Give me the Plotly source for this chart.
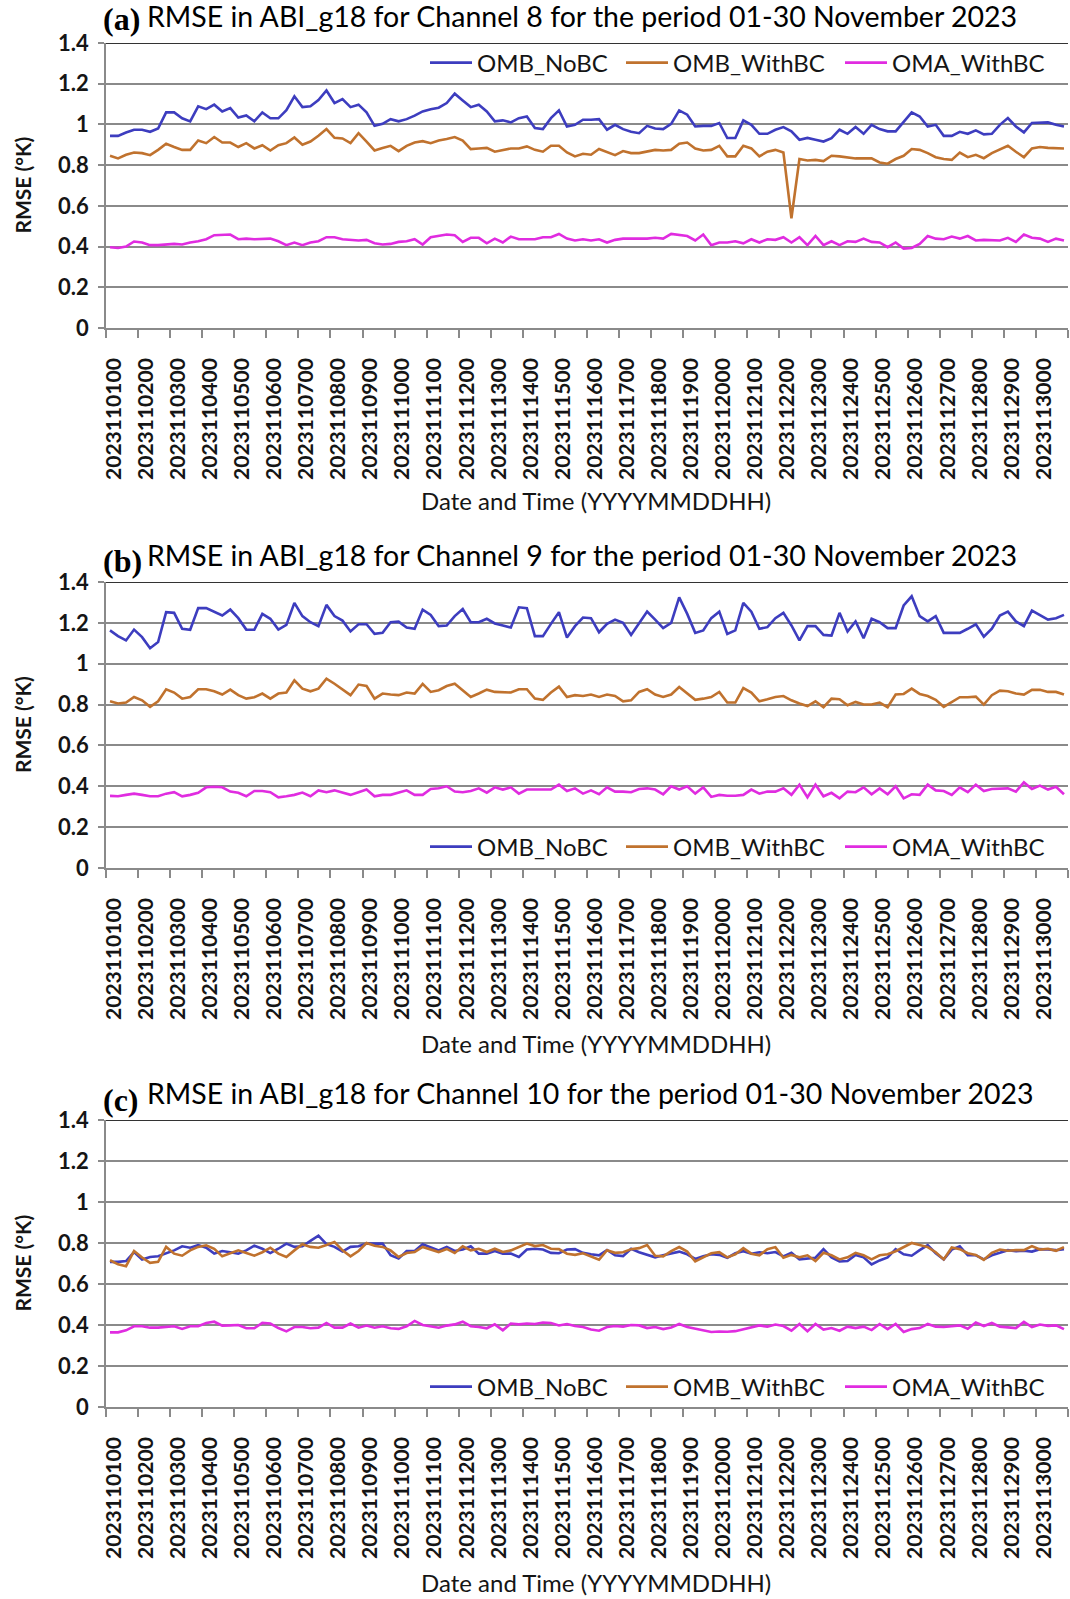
import plotly.graph_objects as go

W, H = 1070, 1599

# ---------------- data ----------------
days = [f"{d:02d}" for d in range(1, 31)]
hours = ["00", "06", "12", "18"]
times = [f"202311{d}{h}" for d in days for h in hours]          # 120 analysis times
tick_idx = list(range(0, 120, 4))
tick_labels = [times[i] for i in tick_idx]
y_ticks = [0, 0.2, 0.4, 0.6, 0.8, 1.0, 1.2, 1.4]
y_tick_text = ["0", "0.2", "0.4", "0.6", "0.8", "1", "1.2", "1.4"]

a_nobc = [0.944,0.944,0.96,0.974,0.974,0.964,0.98,1.059,1.059,1.03,
          1.015,1.089,1.075,1.097,1.064,1.08,1.034,1.044,1.015,1.059,
          1.03,1.03,1.07,1.138,1.085,1.089,1.12,1.167,1.105,1.125,
          1.085,1.097,1.059,0.993,1.003,1.026,1.015,1.026,1.043,1.064,
          1.075,1.082,1.105,1.151,1.118,1.085,1.097,1.064,1.015,1.02,
          1.01,1.031,1.039,0.982,0.977,1.031,1.069,0.99,0.998,1.023,
          1.023,1.026,0.974,0.998,0.977,0.964,0.957,0.993,0.98,0.977,
          1.003,1.069,1.048,0.99,0.993,0.993,1.007,0.933,0.933,1.02,
          0.998,0.954,0.954,0.974,0.987,0.966,0.925,0.934,0.925,0.916,
          0.933,0.974,0.954,0.987,0.954,0.998,0.977,0.966,0.966,1.015,
          1.059,1.039,0.99,0.998,0.944,0.944,0.964,0.954,0.971,0.951,
          0.954,0.998,1.031,0.99,0.961,1.007,1.01,1.01,0.998,0.99]
a_withbc = [0.846,0.833,0.851,0.862,0.859,0.849,0.875,0.905,0.889,0.875,
            0.875,0.921,0.908,0.938,0.911,0.911,0.889,0.908,0.882,0.898,
            0.872,0.898,0.908,0.936,0.9,0.916,0.944,0.977,0.934,0.931,
            0.908,0.957,0.916,0.872,0.884,0.895,0.869,0.895,0.911,0.918,
            0.908,0.921,0.928,0.938,0.921,0.879,0.882,0.885,0.866,0.875,
            0.882,0.882,0.892,0.875,0.866,0.895,0.895,0.862,0.843,0.856,
            0.851,0.879,0.862,0.849,0.869,0.859,0.859,0.867,0.875,0.872,
            0.875,0.905,0.911,0.882,0.872,0.875,0.895,0.843,0.843,0.895,
            0.882,0.843,0.866,0.875,0.862,0.539,0.83,0.823,0.826,0.82,
            0.846,0.843,0.839,0.833,0.833,0.833,0.813,0.807,0.83,0.846,
            0.879,0.875,0.859,0.839,0.83,0.826,0.862,0.839,0.851,0.834,
            0.859,0.879,0.895,0.866,0.839,0.882,0.889,0.885,0.882,0.882]
a_oma = [0.397,0.393,0.4,0.425,0.42,0.407,0.407,0.41,0.413,0.41,
         0.42,0.426,0.436,0.456,0.456,0.459,0.436,0.439,0.436,0.436,
         0.439,0.426,0.407,0.42,0.407,0.42,0.426,0.446,0.446,0.436,
         0.433,0.43,0.433,0.416,0.41,0.413,0.423,0.426,0.436,0.41,
         0.446,0.452,0.459,0.456,0.423,0.443,0.443,0.416,0.439,0.42,
         0.449,0.436,0.436,0.436,0.446,0.446,0.462,0.439,0.43,0.436,
         0.43,0.436,0.42,0.433,0.439,0.439,0.436,0.439,0.443,0.439,
         0.462,0.456,0.452,0.43,0.459,0.407,0.42,0.42,0.426,0.416,
         0.436,0.42,0.436,0.433,0.446,0.42,0.446,0.407,0.452,0.407,
         0.426,0.407,0.426,0.423,0.439,0.423,0.42,0.397,0.42,0.39,
         0.393,0.413,0.452,0.439,0.436,0.449,0.439,0.452,0.43,0.433,
         0.433,0.43,0.443,0.423,0.459,0.443,0.439,0.423,0.439,0.43]

b_nobc = [1.163,1.135,1.114,1.167,1.13,1.076,1.106,1.252,1.249,1.171,
          1.166,1.272,1.272,1.255,1.236,1.265,1.223,1.167,1.166,1.244,
          1.22,1.167,1.19,1.298,1.233,1.203,1.184,1.288,1.233,1.211,
          1.158,1.193,1.193,1.146,1.151,1.203,1.206,1.177,1.171,1.265,
          1.239,1.184,1.187,1.233,1.268,1.203,1.203,1.22,1.197,1.187,
          1.177,1.276,1.272,1.135,1.135,1.195,1.252,1.128,1.184,1.226,
          1.223,1.154,1.195,1.216,1.2,1.141,1.195,1.255,1.216,1.174,
          1.2,1.325,1.244,1.151,1.163,1.223,1.255,1.146,1.163,1.298,
          1.255,1.171,1.179,1.223,1.249,1.187,1.114,1.184,1.184,1.141,
          1.138,1.249,1.158,1.207,1.125,1.22,1.203,1.174,1.174,1.285,
          1.33,1.233,1.207,1.233,1.151,1.151,1.151,1.171,1.193,1.132,
          1.171,1.236,1.255,1.207,1.184,1.26,1.239,1.216,1.223,1.239]
b_withbc = [0.816,0.805,0.81,0.837,0.821,0.789,0.816,0.875,0.859,0.829,
            0.837,0.875,0.875,0.865,0.849,0.873,0.846,0.829,0.836,0.854,
            0.829,0.854,0.859,0.919,0.878,0.865,0.878,0.927,0.902,0.875,
            0.846,0.898,0.891,0.829,0.854,0.849,0.846,0.859,0.854,0.901,
            0.862,0.87,0.891,0.902,0.87,0.837,0.854,0.873,0.862,0.862,
            0.859,0.875,0.875,0.829,0.823,0.859,0.888,0.837,0.846,0.842,
            0.849,0.837,0.849,0.842,0.816,0.821,0.862,0.875,0.849,0.837,
            0.849,0.886,0.854,0.823,0.829,0.837,0.862,0.81,0.81,0.881,
            0.859,0.816,0.826,0.837,0.842,0.821,0.805,0.793,0.816,0.787,
            0.829,0.826,0.797,0.813,0.8,0.8,0.81,0.787,0.849,0.852,
            0.878,0.852,0.842,0.823,0.789,0.813,0.836,0.836,0.839,0.8,
            0.846,0.868,0.865,0.854,0.849,0.872,0.872,0.862,0.862,0.849]
b_oma = [0.353,0.351,0.358,0.364,0.358,0.351,0.351,0.364,0.371,0.351,
         0.358,0.368,0.395,0.398,0.395,0.374,0.368,0.351,0.377,0.377,
         0.371,0.346,0.351,0.358,0.369,0.351,0.38,0.371,0.38,0.368,
         0.358,0.371,0.384,0.351,0.358,0.358,0.368,0.38,0.358,0.358,
         0.387,0.39,0.4,0.374,0.371,0.377,0.39,0.369,0.395,0.384,
         0.395,0.364,0.384,0.384,0.384,0.384,0.408,0.377,0.39,0.364,
         0.38,0.361,0.395,0.374,0.374,0.371,0.387,0.39,0.384,0.361,
         0.4,0.384,0.4,0.364,0.395,0.348,0.358,0.354,0.354,0.358,
         0.384,0.364,0.374,0.374,0.39,0.358,0.408,0.346,0.408,0.351,
         0.368,0.341,0.374,0.371,0.395,0.361,0.39,0.361,0.4,0.341,
         0.361,0.358,0.408,0.38,0.377,0.358,0.395,0.371,0.408,0.377,
         0.387,0.387,0.39,0.374,0.419,0.387,0.403,0.384,0.398,0.361]

c_nobc = [0.708,0.708,0.712,0.756,0.719,0.732,0.735,0.748,0.764,0.784,
          0.777,0.79,0.777,0.748,0.761,0.755,0.748,0.764,0.787,0.772,
          0.751,0.772,0.797,0.781,0.784,0.81,0.836,0.794,0.781,0.758,
          0.781,0.784,0.797,0.797,0.797,0.74,0.724,0.761,0.761,0.794,
          0.78,0.764,0.781,0.761,0.768,0.784,0.748,0.748,0.761,0.748,
          0.748,0.732,0.768,0.772,0.768,0.752,0.75,0.768,0.77,0.752,
          0.745,0.74,0.766,0.74,0.736,0.772,0.755,0.744,0.73,0.74,
          0.75,0.758,0.745,0.722,0.735,0.745,0.742,0.728,0.75,0.76,
          0.748,0.755,0.75,0.756,0.735,0.752,0.72,0.724,0.728,0.77,
          0.73,0.71,0.712,0.742,0.73,0.695,0.715,0.73,0.77,0.745,
          0.738,0.765,0.79,0.75,0.72,0.768,0.784,0.74,0.74,0.72,
          0.74,0.752,0.765,0.76,0.762,0.758,0.77,0.768,0.765,0.77]
c_withbc = [0.716,0.696,0.687,0.761,0.729,0.703,0.708,0.781,0.748,0.738,
            0.764,0.781,0.789,0.772,0.735,0.75,0.764,0.751,0.738,0.755,
            0.777,0.748,0.732,0.764,0.794,0.781,0.777,0.79,0.805,0.764,
            0.735,0.761,0.8,0.787,0.781,0.764,0.732,0.751,0.756,0.781,
            0.768,0.756,0.771,0.751,0.784,0.764,0.772,0.756,0.772,0.756,
            0.764,0.781,0.797,0.785,0.79,0.772,0.77,0.748,0.742,0.75,
            0.735,0.718,0.765,0.752,0.755,0.77,0.775,0.79,0.738,0.735,
            0.76,0.78,0.758,0.71,0.73,0.75,0.755,0.73,0.745,0.775,
            0.748,0.74,0.77,0.78,0.728,0.742,0.73,0.74,0.712,0.752,
            0.74,0.72,0.73,0.752,0.74,0.72,0.74,0.745,0.76,0.782,
            0.8,0.79,0.78,0.755,0.72,0.778,0.77,0.75,0.742,0.718,
            0.752,0.768,0.762,0.765,0.765,0.785,0.768,0.772,0.762,0.78]
c_oma = [0.364,0.364,0.374,0.394,0.394,0.387,0.387,0.39,0.394,0.381,
         0.394,0.394,0.41,0.416,0.397,0.398,0.4,0.384,0.384,0.41,
         0.407,0.385,0.369,0.39,0.39,0.384,0.387,0.41,0.387,0.387,
         0.407,0.387,0.397,0.387,0.394,0.384,0.381,0.394,0.42,0.4,
         0.392,0.387,0.397,0.403,0.416,0.394,0.39,0.384,0.403,0.374,
         0.407,0.403,0.407,0.405,0.412,0.41,0.398,0.405,0.395,0.39,
         0.378,0.372,0.39,0.395,0.392,0.4,0.398,0.385,0.39,0.38,
         0.388,0.405,0.39,0.382,0.375,0.366,0.368,0.367,0.37,0.38,
         0.39,0.398,0.392,0.402,0.395,0.372,0.405,0.37,0.405,0.378,
         0.385,0.372,0.392,0.385,0.392,0.375,0.405,0.38,0.405,0.366,
         0.38,0.385,0.405,0.392,0.39,0.395,0.398,0.382,0.412,0.395,
         0.41,0.392,0.39,0.385,0.415,0.39,0.402,0.396,0.398,0.38]

series_names = ["OMB_NoBC", "OMB_WithBC", "OMA_WithBC"]
colors = ["#3d3dbf", "#c0722e", "#e02ce0"]

# ---------------- layout helpers (pixel geometry) ----------------
PX_L, PX_R = 106, 1068
LEG_X = [438, 634, 853]          # left end of each legend line sample
LABEL_SHIFT = 0.5                # rotated date labels sit slightly right of their category
panels = [
    dict(tag="(a)", ch="8", data=[a_nobc, a_withbc, a_oma], top=43, bot=328,
         leg_y=63, title_y=16, tag_y=19, xt_y=501),
    dict(tag="(b)", ch="9", data=[b_nobc, b_withbc, b_oma], top=582, bot=868,
         leg_y=847, title_y=555, tag_y=561, xt_y=1043),
    dict(tag="(c)", ch="10", data=[c_nobc, c_withbc, c_oma], top=1120, bot=1407,
         leg_y=1387, title_y=1093, tag_y=1100, xt_y=1582),
]

def py(p):
    return 1 - p / H

def pxx(p):
    return p / W

GRID = "#8a8a8a"
TXT = "#151515"
FONT = "Lato"

fig = go.Figure()
annotations = []
shapes = []
layout = {}
x_idx = list(range(len(times)))
leg_no = 0

for k, p in enumerate(panels):
    sfx = "" if k == 0 else str(k + 1)
    for s in range(3):
        assert len(p["data"][s]) == len(times)
        leg_no += 1
        leg = "legend" if leg_no == 1 else f"legend{leg_no}"
        fig.add_trace(go.Scatter(
            x=x_idx, y=p["data"][s], mode="lines", name=series_names[s],
            line=dict(color=colors[s], width=2.6), xaxis="x" + sfx, yaxis="y" + sfx,
            legend=leg, text=times, hovertemplate="%{text}: %{y}<extra></extra>"))
        layout[leg] = dict(
            orientation="h", x=pxx(LEG_X[s] - 13), xanchor="left",
            y=py(p["leg_y"]), yanchor="middle",
            font=dict(family=FONT, size=24, color=TXT), bgcolor="rgba(0,0,0,0)",
            itemwidth=42, borderwidth=0)
    layout["xaxis" + sfx] = dict(
        domain=[pxx(PX_L), pxx(PX_R)], anchor="y" + sfx, range=[-0.5, len(times) - 0.5],
        automargin=False,
        showline=True, linecolor=GRID, linewidth=1.5, showgrid=False, zeroline=False,
        tickmode="array", tickvals=[i + LABEL_SHIFT for i in tick_idx],
        ticktext=tick_labels, ticks="",
        tickangle=-90, ticklabelstandoff=20,
        tickfont=dict(family=FONT, size=21, color=TXT, weight="bold"),
        minor=dict(tickmode="array", tickvals=[i - 0.5 for i in range(0, 121, 4)],
                   ticks="outside", ticklen=8, tickcolor=GRID, tickwidth=1.5, showgrid=False))
    layout["yaxis" + sfx] = dict(
        domain=[py(p["bot"]), py(p["top"])], anchor="x" + sfx, range=[0, 1.4],
        automargin=False,
        tickmode="array", tickvals=y_ticks, ticktext=y_tick_text,
        showgrid=True, gridcolor=GRID, gridwidth=1.5, zeroline=False,
        showline=True, linecolor=GRID, linewidth=1.5,
        ticks="outside", ticklen=6, tickcolor=GRID, tickwidth=1.5, ticklabelstandoff=5,
        tickfont=dict(family=FONT, size=22, color=TXT, weight="bold"))
    shapes.append(dict(type="line", xref="x" + sfx + " domain", yref="y" + sfx,
                       x0=0, x1=1, y0=1.4, y1=1.4, line=dict(color="#333333", width=2.2)))
    annotations += [
        dict(text=p["tag"], x=pxx(101), y=py(p["tag_y"]), xref="paper", yref="paper",
             xanchor="left", yanchor="middle", showarrow=False,
             font=dict(family="Liberation Serif", size=32, color="#000", weight="bold")),
        dict(text=f"RMSE in ABI_g18 for Channel {p['ch']} for the period 01-30 November 2023",
             x=pxx(145), y=py(p["title_y"]), xref="paper", yref="paper",
             xanchor="left", yanchor="middle", showarrow=False,
             font=dict(family=FONT, size=28.5, color="#000")),
        dict(text="RMSE (°K)", x=pxx(22), y=py((p["top"] + p["bot"]) / 2),
             xref="paper", yref="paper", textangle=-90, xanchor="center", yanchor="middle",
             showarrow=False, font=dict(family=FONT, size=21, color=TXT, weight="bold")),
        dict(text="Date and Time (YYYYMMDDHH)", x=pxx(596), y=py(p["xt_y"]),
             xref="paper", yref="paper", xanchor="center", yanchor="middle",
             showarrow=False, font=dict(family=FONT, size=24, color=TXT)),
    ]

fig.update_layout(
    width=W, height=H, margin=dict(l=0, r=0, t=0, b=0, autoexpand=False),
    paper_bgcolor="white", plot_bgcolor="white",
    annotations=annotations, shapes=shapes, showlegend=True, **layout)

fig.write_html("out.html", config={"displayModeBar": False},
               post_script="document.body.style.margin='0px';document.body.style.overflow='hidden';")
